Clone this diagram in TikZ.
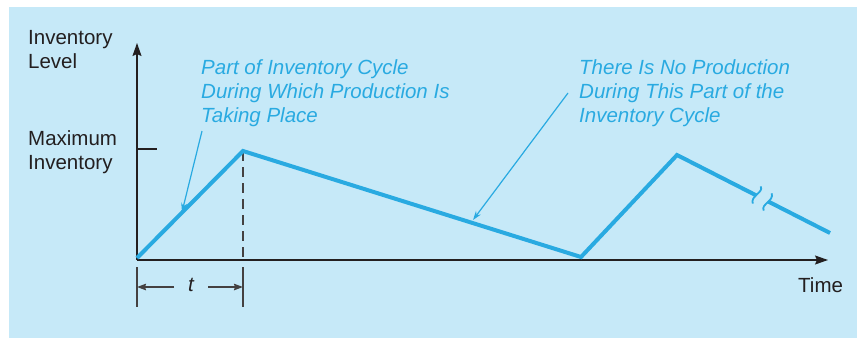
\documentclass[tikz,border=0pt]{standalone}
\usepackage{fontspec}
\setmainfont{Liberation Sans}
\usetikzlibrary{arrows.meta,calc}
\definecolor{bgblue}{RGB}{198,233,248}
\definecolor{lineblue}{RGB}{41,170,225}
\definecolor{inkblack}{RGB}{35,31,32}
\begin{document}
\begin{tikzpicture}[x=1pt,y=-1pt,
  lbl/.style={font=\fontsize{20.5}{24}\selectfont, text=inkblack, inner sep=0, anchor=north west, align=left},
  note/.style={font=\fontsize{20.5}{24.3}\selectfont\itshape, text=lineblue, inner sep=0, anchor=north west, align=left},
  axis/.style={draw=inkblack, line width=1.3pt},
  dimline/.style={draw=inkblack!85, line width=1.4pt},
  prod/.style={draw=lineblue, line width=4pt},
  callout/.style={draw=lineblue, line width=1.2pt, -{Stealth[length=9pt,width=6pt]}},
  axtip/.style={-{Stealth[length=13pt,width=9pt,inset=2pt]}},
  dimtip/.style={-{Stealth[length=9pt,width=6.5pt,inset=1pt]}}]
\useasboundingbox (0,0) rectangle (857,338);
\fill[bgblue] (9,7) rectangle (857,338);
% coordinates
\coordinate (O) at (137,258);
\coordinate (Ax) at (137,260);
\coordinate (Yt) at (137,43);
\coordinate (Xt) at (828,260);
\coordinate (T1) at (137,149);
\coordinate (T2) at (157,149);
\coordinate (P1) at (243,151);
\coordinate (P1b) at (243,260);
\coordinate (V1) at (581,257);
\coordinate (P2) at (677,155);
\coordinate (E) at (830,233);
\coordinate (B1) at ($(P2)!0.52!(E)$);
\coordinate (B2) at ($(P2)!0.595!(E)$);
\coordinate (Bc) at ($(P2)!0.557!(E)$);
% axes
\draw[axis, axtip] (Ax) -- (Yt);
\draw[axis, axtip] (Ax) -- (Xt);
\draw[axis] (T1) -- (T2);
% dashed
\draw[dimline, dash pattern=on 10pt off 6pt] (P1) -- (P1b);
% dimension
\coordinate (e1a) at (137,267); \coordinate (e1b) at (137,307);
\coordinate (e2a) at (243,267); \coordinate (e2b) at (243,307);
\coordinate (d1) at (174,287); \coordinate (d1e) at (137,287);
\coordinate (d2) at (208,287); \coordinate (d2e) at (243,287);
\draw[dimline] (e1a) -- (e1b);
\draw[dimline] (e2a) -- (e2b);
\draw[dimline, dimtip] (d1) -- (d1e);
\draw[dimline, dimtip] (d2) -- (d2e);
\node[font=\fontsize{20.5}{24}\selectfont\itshape, text=inkblack, inner sep=0, anchor=base] (tl) at (191,291) {t};
% production line
\draw[prod] (O) -- (P1) -- (V1) -- (P2) -- (B1);
\draw[prod] (B2) -- (E);
\begin{scope}[shift={(Bc)}, rotate=-27.6]
  \draw[draw=lineblue, line width=1.8pt] (-7,-10) .. controls (-1,-6) and (-12,3) .. (-6,9);
  \draw[draw=lineblue, line width=1.8pt] (6,-9) .. controls (12,-3) and (1,6) .. (7,10);
\end{scope}
% labels
\node[lbl] (yl) at (28,30) {Inventory\\Level};
\node[lbl] (ml) at (28,130.5) {Maximum\\Inventory};
\node[font=\fontsize{20.5}{24}\selectfont, text=inkblack, inner sep=0, anchor=base west] (tm) at (798,292) {Time};
\node[note] (n1) at (201,59) {Part of Inventory Cycle\\During Which Production Is\\Taking Place};
\node[note] (n2) at (579,59) {There Is No Production\\During This Part of the\\Inventory Cycle};
% callouts
\coordinate (c1s) at (202,131); \coordinate (c1e) at (182,212);
\coordinate (c2s) at (568,93); \coordinate (c2e) at (473,220);
\draw[callout] (c1s) -- (c1e);
\draw[callout] (c2s) -- (c2e);
\end{tikzpicture}
\end{document}
